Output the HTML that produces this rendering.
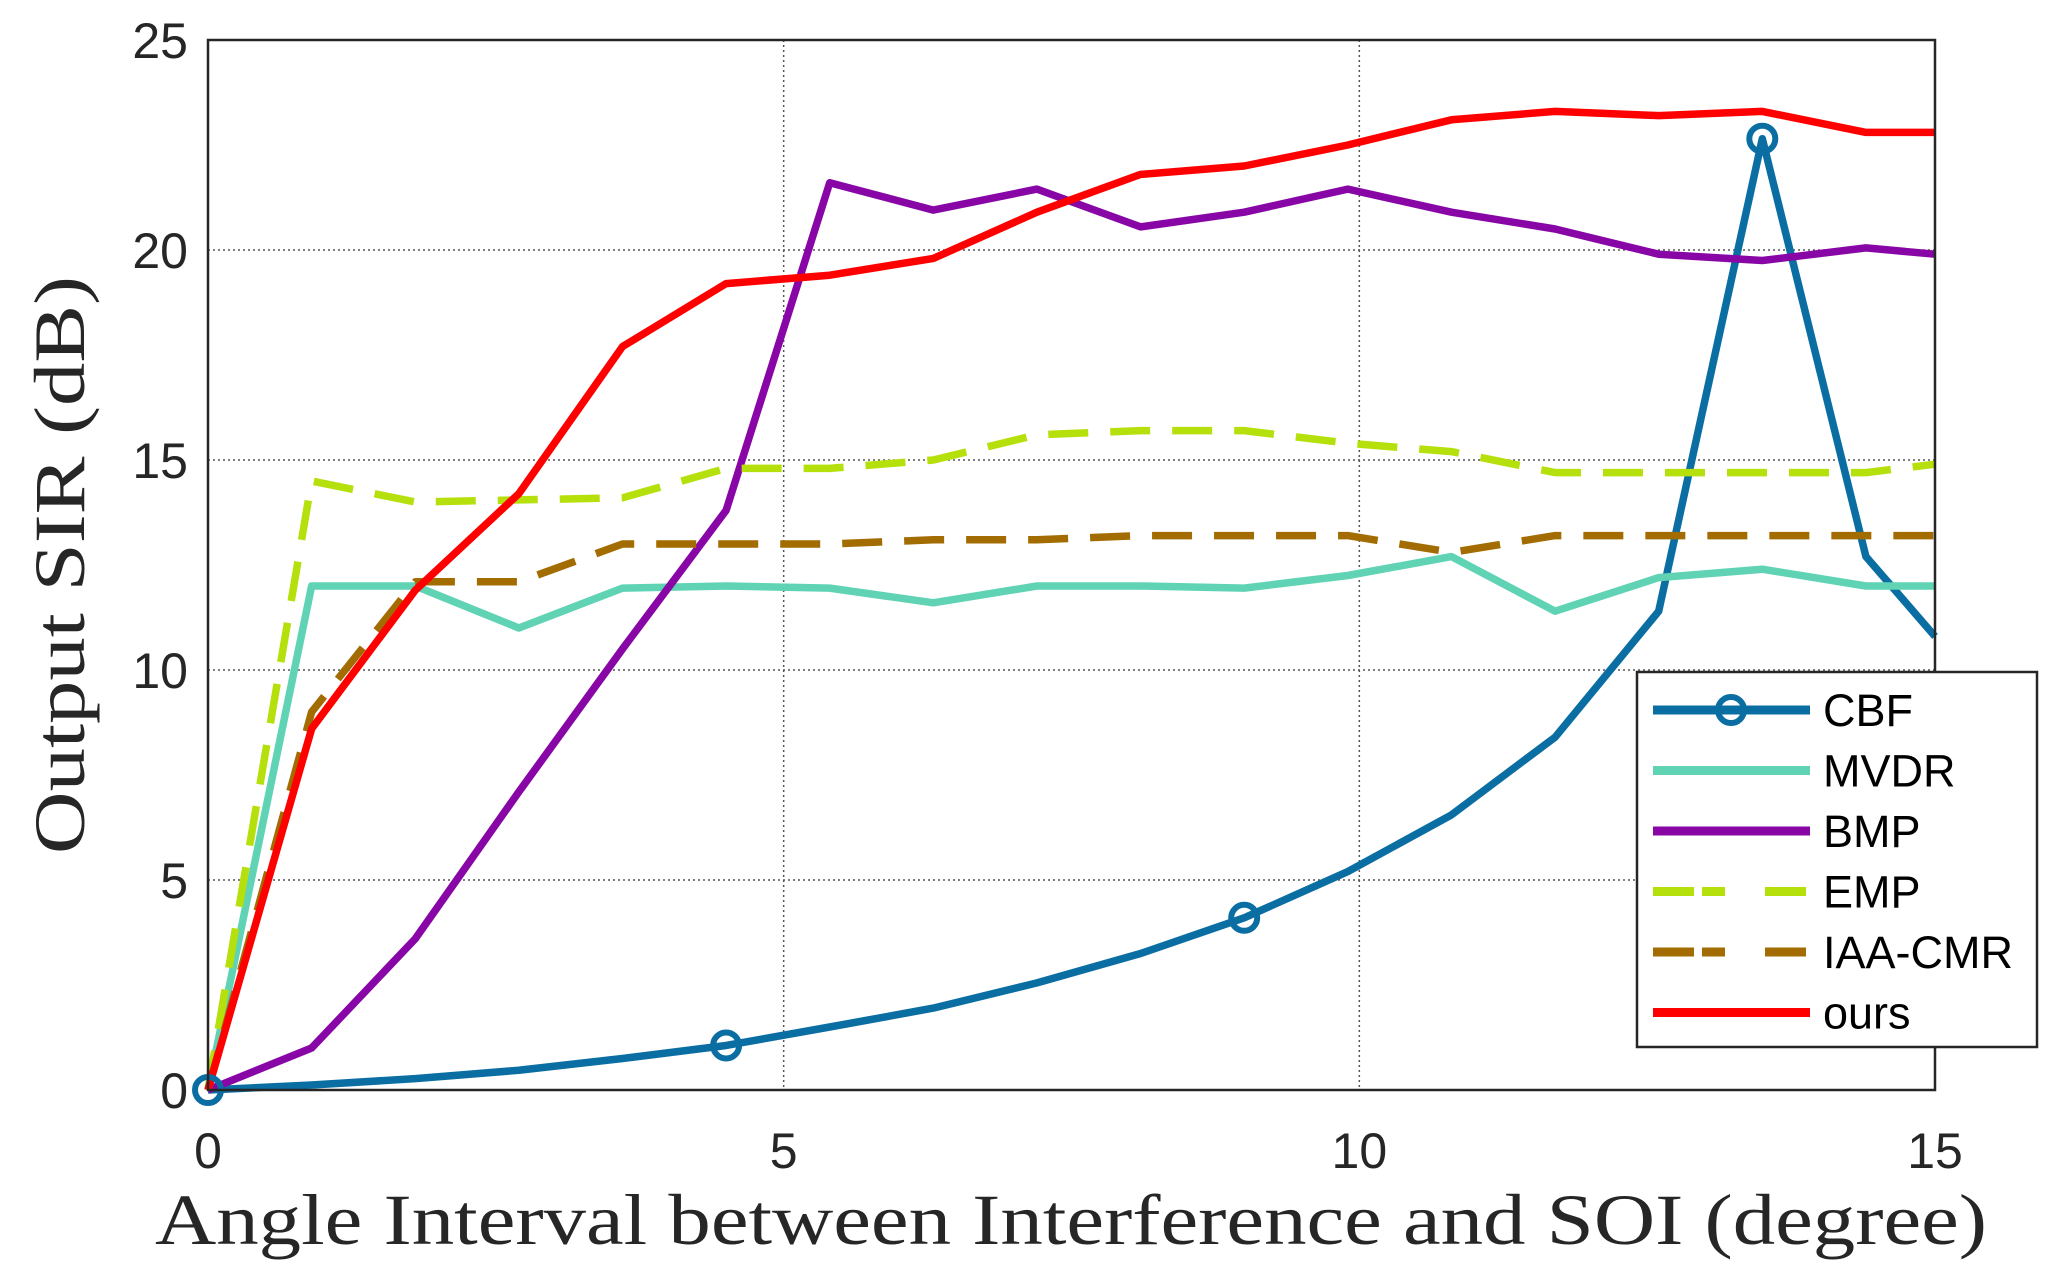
<!DOCTYPE html>
<html><head><meta charset="utf-8"><style>
html,body{margin:0;padding:0;background:#fff;width:2061px;height:1284px;overflow:hidden}
</style></head><body>
<svg id="chart" width="2061" height="1284" xmlns="http://www.w3.org/2000/svg">
<g id="grid"></g>
<g id="series"></g>
<rect x="208" y="40" width="1727" height="1050" fill="none" stroke="#262626" stroke-width="2.5"/>
<g id="ticks" font-family="Liberation Sans, sans-serif" font-size="50" fill="#262626"></g>
<text x="155" y="1244" textLength="1832" lengthAdjust="spacingAndGlyphs" font-family="Liberation Serif, serif" font-size="72" fill="#262626">Angle Interval between Interference and SOI (degree)</text>
<text transform="translate(84,854) rotate(-90)" textLength="578" lengthAdjust="spacingAndGlyphs" font-family="Liberation Serif, serif" font-size="72" fill="#262626">Output SIR (dB)</text>
<g id="legend">
<rect x="1637" y="672" width="400" height="375" fill="#fff" stroke="#262626" stroke-width="2.5"/>
</g>
</svg>
<script>
const xs=[0,0.9,1.8,2.7,3.6,4.5,5.4,6.3,7.2,8.1,9,9.9,10.8,11.7,12.6,13.5,14.4,15];
const cbf=[0,0.12,0.27,0.47,0.75,1.06,1.5,1.95,2.55,3.25,4.1,5.2,6.55,8.4,11.4,22.65,12.7,10.8];
const mvdr=[0,12,12,11,11.95,12,11.95,11.6,12,12,11.95,12.25,12.7,11.4,12.2,12.4,12,12];
const bmp=[0,1.0,3.6,7.1,10.5,13.8,21.6,20.95,21.45,20.55,20.9,21.45,20.9,20.5,19.9,19.75,20.05,19.9];
const emp=[0,14.5,14,14.05,14.1,14.8,14.8,15,15.6,15.7,15.7,15.4,15.2,14.7,14.7,14.7,14.7,14.9];
const iaa=[0,9.0,12.1,12.1,13,13,13,13.1,13.1,13.2,13.2,13.2,12.8,13.2,13.2,13.2,13.2,13.2];
const ours=[0,8.6,11.9,14.2,17.7,19.2,19.4,19.8,20.9,21.8,22,22.5,23.1,23.3,23.2,23.3,22.8,22.8];
const xTicks=[0,5,10,15];
const yTicks=[0,5,10,15,20,25];
const names=['CBF','MVDR','BMP','EMP','IAA-CMR','ours'];
const NS='http://www.w3.org/2000/svg';
const X=v=>208+v/15*1727, Y=v=>1090-v/25*1050;
function mk(t,a,p){const e=document.createElementNS(NS,t);for(const k in a)e.setAttribute(k,a[k]);p.appendChild(e);return e;}
const grid=document.getElementById('grid'),ticks=document.getElementById('ticks');
xTicks.forEach(t=>{
 if(t>0&&t<15){const l=mk('line',{x1:X(t),x2:X(t),y1:40,y2:1090,stroke:'#555','stroke-width':1.5,'stroke-dasharray':'2 3'},grid);
 
 }
 const tx=mk('text',{x:X(t),y:1168,'text-anchor':'middle'},ticks);tx.textContent=t;
 
 
});
yTicks.forEach(t=>{
 if(t>0&&t<25){const l=mk('line',{x1:208,x2:1935,y1:Y(t),y2:Y(t),stroke:'#555','stroke-width':1.5,'stroke-dasharray':'2 3'},grid);
 
 }
 const tx=mk('text',{x:188,y:Y(t)+18,'text-anchor':'end'},ticks);tx.textContent=t;
 
 
});
const sg=document.getElementById('series');
const defs=[[cbf,'#0a6ea3',null],[mvdr,'#5fd3b4',null],[bmp,'#8806a6',null],[emp,'#b5e00b','40 22'],[iaa,'#a36c00','40 22'],[ours,'#ff0000',null]];
defs.forEach((d,i)=>{
 const p=mk('polyline',{points:xs.map((x,j)=>X(x)+','+Y(d[0][j])).join(' '),fill:'none',stroke:d[1],'stroke-width':7.5,'stroke-linejoin':'round'},sg);
 if(d[2])p.setAttribute('stroke-dasharray',d[2]);
 
 
});
[0,5,10,15].forEach(j=>{const c=mk('circle',{cx:X(xs[j]),cy:Y(cbf[j]),r:13,fill:'none',stroke:'#0a6ea3','stroke-width':6},sg);
 
 });
const lg=document.getElementById('legend');
names.forEach((n,i)=>{
 const y=710+i*60.5,d=defs[i];
 const l=mk('line',{x1:1653,x2:1810,y1:y,y2:y,stroke:d[1],'stroke-width':9},lg);
 if(d[2])l.setAttribute('stroke-dasharray','41 8 23 40 41');
 
 
 if(i===0){const c=mk('circle',{cx:1731,cy:y,r:13,fill:'none',stroke:d[1],'stroke-width':6},lg);
  
  }
 const t=mk('text',{x:1823,y:y+16,'font-family':'Liberation Sans, sans-serif','font-size':45,fill:'#000'},lg);t.textContent=n;
 
 
});
</script>
</body></html>
